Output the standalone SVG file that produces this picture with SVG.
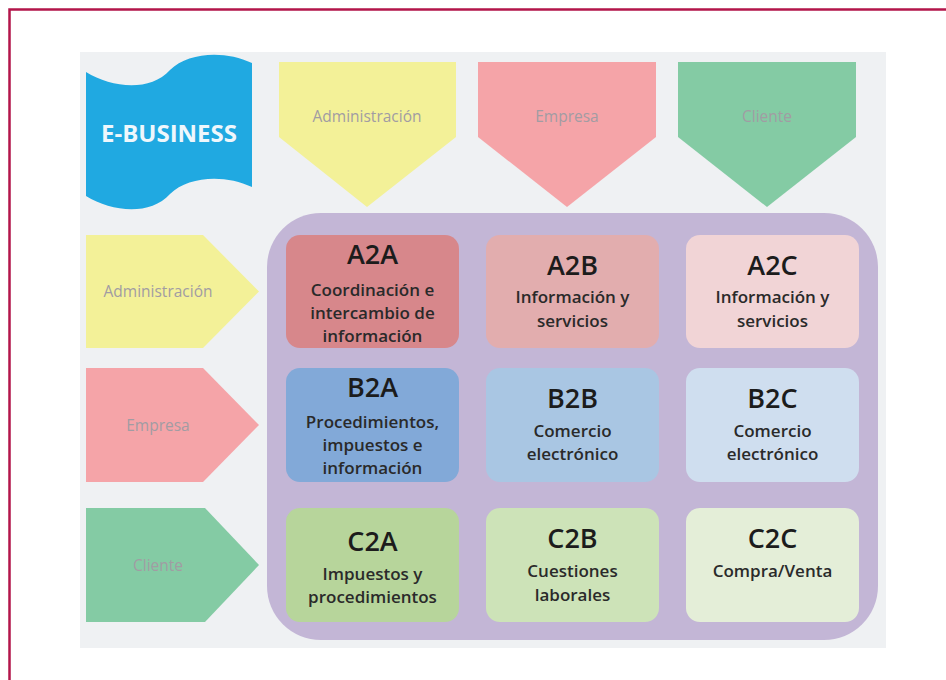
<svg xmlns="http://www.w3.org/2000/svg" width="946" height="680" viewBox="0 0 946 680">
<style>
.lbl{font-family:"Open Sans","Liberation Sans",sans-serif;font-size:15.5px;fill:#a19ca3;text-anchor:middle}
.ttl{font-family:"Open Sans","Liberation Sans",sans-serif;font-size:27px;font-weight:600;fill:#1c1c1c;text-anchor:middle}
.sub{font-family:"Open Sans","Liberation Sans",sans-serif;font-size:17px;font-weight:600;fill:#2a2a2a;text-anchor:middle}
</style>
<rect x="0" y="0" width="946" height="680" fill="#ffffff"/>
<rect x="9.5" y="9.5" width="960" height="700" fill="none" stroke="#b3154a" stroke-width="2.5"/>
<rect x="80" y="52" width="806" height="596" fill="#eff1f3"/>

<g id="ebusiness">
<path d="M86,72 C112,88 150,92 170,70 C188,52 225,50 252,63 L252,187 C225,174 188,176 170,194 C150,216 112,212 86,196 Z" fill="#20a9e1"/>
<text x="169" y="142" font-family="'Open Sans','Liberation Sans',sans-serif" font-size="24" font-weight="700" fill="#eef7fc" text-anchor="middle">E-BUSINESS</text>
</g>

<g id="top-admin">
<polygon points="279,62 456,62 456,137 367,207 279,137" fill="#f3f198"/>
<text class="lbl" x="367" y="122">Administración</text>
</g>
<g id="top-empresa">
<polygon points="478,62 656,62 656,137 567,207 478,137" fill="#f5a4a8"/>
<text class="lbl" x="567" y="122">Empresa</text>
</g>
<g id="top-cliente">
<polygon points="678,62 856,62 856,137 767,207 678,137" fill="#84cba4"/>
<text class="lbl" x="767" y="122">Cliente</text>
</g>

<g id="left-admin">
<polygon points="86,235 203,235 259,291.5 203,348 86,348" fill="#f3f198"/>
<text class="lbl" x="158" y="297">Administración</text>
</g>
<g id="left-empresa">
<polygon points="86,368 203,368 259,425 203,482 86,482" fill="#f5a4a8"/>
<text class="lbl" x="158" y="431">Empresa</text>
</g>
<g id="left-cliente">
<polygon points="86,508 205,508 259,565 205,622 86,622" fill="#84cba4"/>
<text class="lbl" x="158" y="571">Cliente</text>
</g>

<g id="matrix">
<rect x="267" y="213" width="611" height="427" rx="54" ry="54" fill="#c3b6d6"/>
</g>

<g id="A2A">
<rect x="286" y="235" width="173" height="113" rx="14" fill="#d7878b"/>
<text class="ttl" x="372.5" y="264">A2A</text>
<text class="sub" x="372.5" y="296">Coordinación e</text>
<text class="sub" x="372.5" y="319">intercambio de</text>
<text class="sub" x="372.5" y="342">información</text>
</g>
<g id="A2B">
<rect x="486" y="235" width="173" height="113" rx="14" fill="#e2adae"/>
<text class="ttl" x="572.5" y="275">A2B</text>
<text class="sub" x="572.5" y="303">Información y</text>
<text class="sub" x="572.5" y="327">servicios</text>
</g>
<g id="A2C">
<rect x="686" y="235" width="173" height="113" rx="14" fill="#f1d4d6"/>
<text class="ttl" x="772.5" y="275">A2C</text>
<text class="sub" x="772.5" y="303">Información y</text>
<text class="sub" x="772.5" y="327">servicios</text>
</g>

<g id="B2A">
<rect x="286" y="368" width="173" height="114" rx="14" fill="#82a9d8"/>
<text class="ttl" x="372.5" y="397">B2A</text>
<text class="sub" x="372.5" y="428">Procedimientos,</text>
<text class="sub" x="372.5" y="451">impuestos e</text>
<text class="sub" x="372.5" y="474">información</text>
</g>
<g id="B2B">
<rect x="486" y="368" width="173" height="114" rx="14" fill="#a9c6e3"/>
<text class="ttl" x="572.5" y="408">B2B</text>
<text class="sub" x="572.5" y="437">Comercio</text>
<text class="sub" x="572.5" y="460">electrónico</text>
</g>
<g id="B2C">
<rect x="686" y="368" width="173" height="114" rx="14" fill="#cfdeef"/>
<text class="ttl" x="772.5" y="408">B2C</text>
<text class="sub" x="772.5" y="437">Comercio</text>
<text class="sub" x="772.5" y="460">electrónico</text>
</g>

<g id="C2A">
<rect x="286" y="508" width="173" height="114" rx="14" fill="#b7d59b"/>
<text class="ttl" x="372.5" y="551">C2A</text>
<text class="sub" x="372.5" y="580">Impuestos y</text>
<text class="sub" x="372.5" y="603">procedimientos</text>
</g>
<g id="C2B">
<rect x="486" y="508" width="173" height="114" rx="14" fill="#cde3b8"/>
<text class="ttl" x="572.5" y="548">C2B</text>
<text class="sub" x="572.5" y="577">Cuestiones</text>
<text class="sub" x="572.5" y="601">laborales</text>
</g>
<g id="C2C">
<rect x="686" y="508" width="173" height="114" rx="14" fill="#e4eed8"/>
<text class="ttl" x="772.5" y="548">C2C</text>
<text class="sub" x="772.5" y="577">Compra/Venta</text>
</g>

<g id="connectors"></g>
</svg>
